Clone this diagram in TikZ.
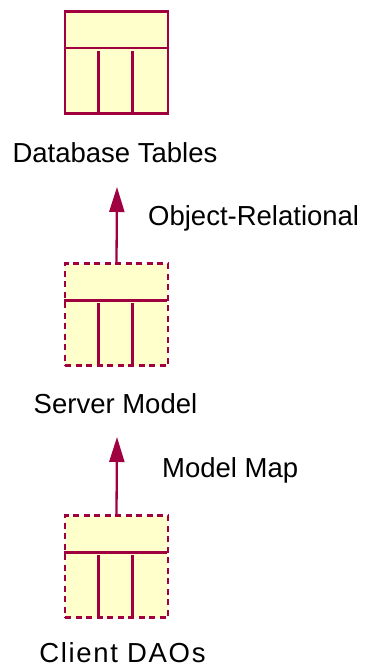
\documentclass[tikz,border=0pt]{standalone}
\usepackage{fontspec}
\setmainfont{Liberation Sans}
\usetikzlibrary{arrows.meta}
\definecolor{roseline}{RGB}{160,0,64}
\definecolor{rosefill}{RGB}{255,255,204}
\tikzset{
  tbl/.style={draw=roseline,fill=rosefill,line width=2.3pt,rectangle,
    minimum width=103pt,minimum height=102pt,inner sep=0pt},
  tbldash/.style={tbl,dash pattern=on 6pt off 4.5pt},
  part/.style={draw=roseline,line width=2.3pt},
  lbl/.style={anchor=base,inner sep=0pt,font=\fontsize{27.5}{32}\selectfont},
  arr/.style={draw=roseline,line width=2.3pt,
    -{Triangle[length=25pt,width=15pt]}}
}
\begin{document}
\begin{tikzpicture}[x=1pt,y=-1pt]
   \useasboundingbox (0,0) rectangle (364,669);
   % tables
   \node [tbl] (db) at (116.5,62.5) {};
   \node [tbldash] (server) at (116.5,314.5) {};
   \node [tbldash] (client) at (116.5,566.5) {};
   \foreach \t in {db,server,client} {
     \draw [part] (\t.north west) ++(0,38) -- ++(103,0);
     \draw [part] (\t.south west) ++(34.5,0) -- ++(0,-64);
     \draw [part] (\t.south west) ++(68.5,0) -- ++(0,-64);
   }
   % names
   \node [lbl] (dbname) at (115,162) {Database Tables};
   \node [lbl] (servername) at (115.5,413) {Server Model};
   \node [lbl] (clientname) at (122.5,662)
     {\addfontfeature{LetterSpace=6}Client DAOs};
   % mappings
   \coordinate (dbtip) at (117,187);
   \coordinate (servertip) at (117,437);
   \draw [arr] (server.north) -- (dbtip);
   \draw [arr] (client.north) -- (servertip);
   \node [lbl,anchor=base west] (ormap) at (148,225) {Object-Relational};
   \node [lbl,anchor=base west] (modelmap) at (162,477) {Model Map};
\end{tikzpicture}
\end{document}
